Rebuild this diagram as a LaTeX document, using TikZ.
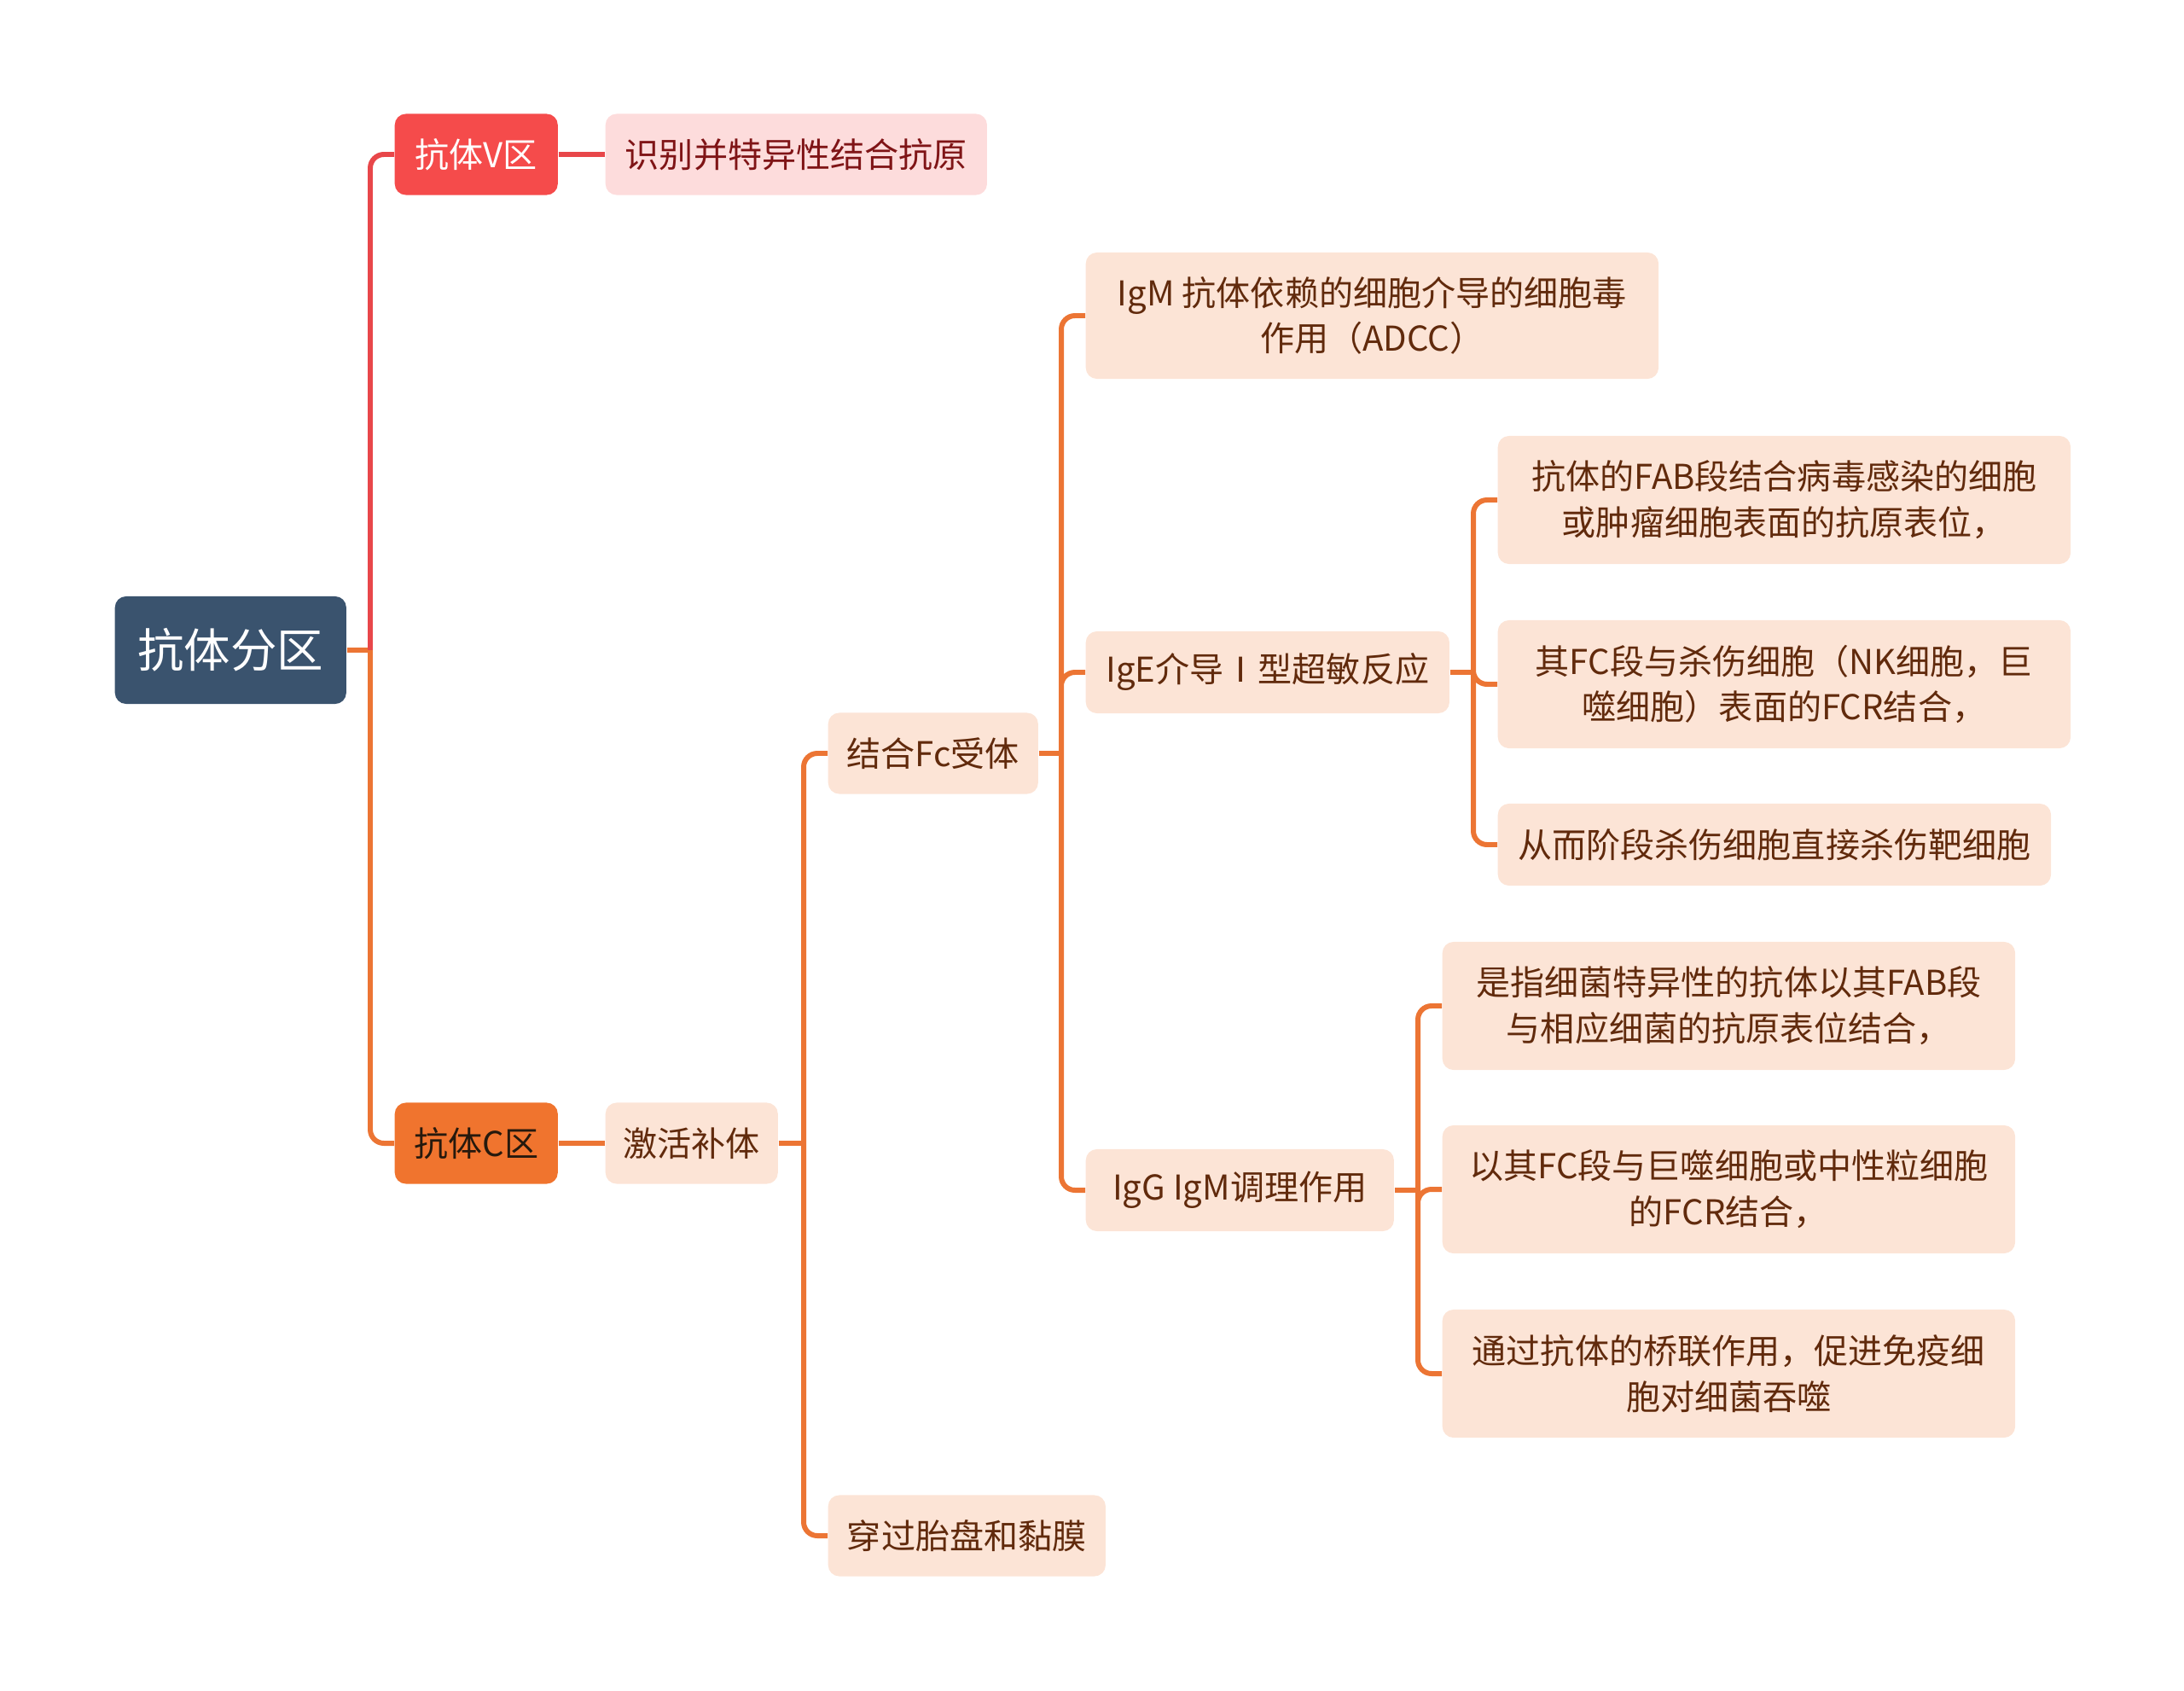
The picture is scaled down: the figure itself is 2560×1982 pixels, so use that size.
\documentclass[tikz,border=0pt]{standalone}
\usepackage{fontspec}
\setmainfont{Noto Sans CJK SC}
\definecolor{rootblue}{HTML}{3A536E}
\definecolor{vred}{HTML}{F54B4B}
\definecolor{corange}{HTML}{F0742E}
\definecolor{pinkbg}{HTML}{FDDCDC}
\definecolor{peachbg}{HTML}{FCE4D6}
\definecolor{pinktxt}{HTML}{7F1416}
\definecolor{peachtxt}{HTML}{612A0C}
\definecolor{redline}{HTML}{E8474A}
\definecolor{orline}{HTML}{EC7534}
\begin{document}
\begin{tikzpicture}[x=0.01cm, y=-0.01cm, line join=round,
	box/.style={anchor=west, rounded corners=0.13cm, align=center, inner sep=0pt,
		font=\fontsize{11.4}{15.3}\selectfont},
	leaf/.style={box, fill=peachbg, text=peachtxt},
	redl/.style={draw=redline, line width=1.7pt},
	orl/.style={draw=orline, line width=1.7pt},
	elbow/.style={rounded corners=0.16cm}]
	\useasboundingbox (0,0) rectangle (2560,1982);
	% nodes
	\node[box, fill=rootblue, text=white, minimum width=2.71cm, minimum height=1.26cm,
		font=\fontsize{15.5}{18}\selectfont] (root) at (134,762) {抗体分区};
	\node[box, fill=vred, text=white, minimum width=1.91cm, minimum height=0.95cm] (vq) at (462,181) {抗体V区};
	\node[box, fill=pinkbg, text=pinktxt, minimum width=4.47cm, minimum height=0.95cm] (vd) at (709,181) {识别并特异性结合抗原};
	\node[box, fill=corange, text=black!80!brown, minimum width=1.91cm, minimum height=0.95cm] (cq) at (462,1340) {抗体C区};
	\node[leaf, minimum width=2.02cm, minimum height=0.95cm] (bt) at (709,1340) {激活补体};
	\node[leaf, minimum width=2.46cm, minimum height=0.95cm] (fc) at (970,883) {结合Fc受体};
	\node[leaf, minimum width=3.25cm, minimum height=0.95cm] (tp) at (970,1800) {穿过胎盘和黏膜};
	\node[leaf, minimum width=6.71cm, minimum height=1.48cm] (igm) at (1272,370) {IgM 抗体依赖的细胞介导的细胞毒\\作用（ADCC）};
	\node[leaf, minimum width=4.26cm, minimum height=0.96cm] (ige) at (1272,788) {IgE介导Ⅰ型超敏反应};
	\node[leaf, minimum width=3.61cm, minimum height=0.96cm] (igg) at (1272,1395) {IgG IgM调理作用};
	\node[leaf, minimum width=6.71cm, minimum height=1.5cm] (e1) at (1755,586) {抗体的FAB段结合病毒感染的细胞\\或肿瘤细胞表面的抗原表位，};
	\node[leaf, minimum width=6.71cm, minimum height=1.5cm] (e2) at (1755,802) {其FC段与杀伤细胞（NK细胞，巨\\噬细胞）表面的FCR结合，};
	\node[leaf, minimum width=6.48cm, minimum height=0.96cm] (e3) at (1755,990) {从而阶段杀伤细胞直接杀伤靶细胞};
	\node[leaf, minimum width=6.71cm, minimum height=1.5cm] (g1) at (1690,1179) {是指细菌特异性的抗体以其FAB段\\与相应细菌的抗原表位结合，};
	\node[leaf, minimum width=6.71cm, minimum height=1.5cm] (g2) at (1690,1394) {以其FC段与巨噬细胞或中性粒细胞\\的FCR结合，};
	\node[leaf, minimum width=6.71cm, minimum height=1.5cm] (g3) at (1690,1610) {通过抗体的桥联作用，促进免疫细\\胞对细菌吞噬};
	% trunks
	\coordinate (t0) at (434,762);
	\coordinate (t1) at (942,1340);
	\coordinate (t2) at (1244,883);
	\coordinate (t3) at (1727,788);
	\coordinate (t4) at (1662,1395);
	% connectors
	\draw[orl] (root.east) -- (t0);
	\draw[redl, elbow] (t0) |- (vq.west);
	\draw[orl, elbow] (t0) |- (cq.west);
	\draw[redl] (vq.east) -- (vd.west);
	\draw[orl] (cq.east) -- (bt.west);
	\draw[orl] (bt.east) -- (t1);
	\draw[orl, elbow] (t1) |- (fc.west) (t1) |- (tp.west);
	\draw[orl] (fc.east) -- (t2);
	\draw[orl, elbow] (t2) |- (igm.west) (t2) |- (ige.west) (t2) |- (igg.west);
	\draw[orl] (ige.east) -- (t3);
	\draw[orl, elbow] (t3) |- (e1.west) (t3) |- (e2.west) (t3) |- (e3.west);
	\draw[orl] (igg.east) -- (t4);
	\draw[orl, elbow] (t4) |- (g1.west) (t4) |- (g2.west) (t4) |- (g3.west);
\end{tikzpicture}
\end{document}
